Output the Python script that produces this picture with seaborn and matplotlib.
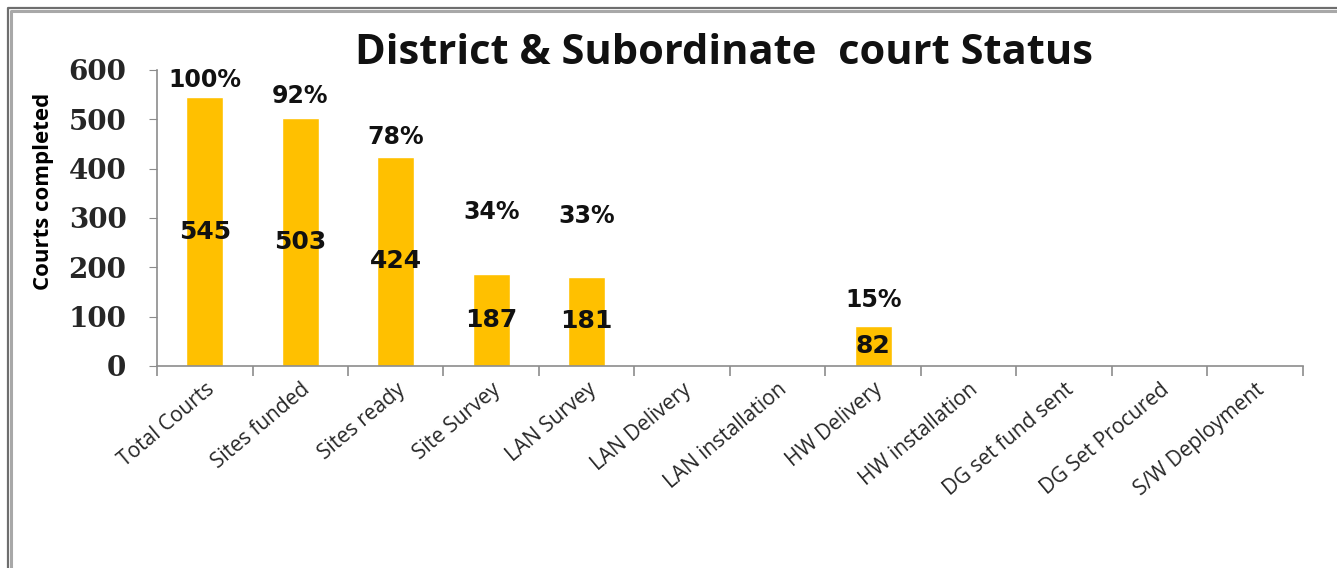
"""
District & Subordinate court status bar chart.
"""

import matplotlib.pyplot as plt
from matplotlib.lines import Line2D
from matplotlib.ticker import FixedLocator
import pandas as pd
import seaborn as sns

stages = ['Total Courts', 'Sites funded', 'Sites ready', 'Site Survey',
          'LAN Survey', 'LAN Delivery', 'LAN installation', 'HW Delivery',
          'HW installation', 'DG set fund sent', 'DG Set Procured',
          'S/W Deployment']
courts = [545, 503, 424, 187, 181, 0, 0, 82, 0, 0, 0, 0]
percents = ['100%', '92%', '78%', '34%', '33%', '', '', '15%', '', '', '', '']
# heights (in data units) where the percentage labels sit
percent_y = [580, 548, 465, 312, 304, 0, 0, 134, 0, 0, 0, 0]

W, H = 1337, 568
sns.set_style('white')
figure = plt.figure(figsize=(W / 100, H / 100), dpi=100)
axes = figure.add_axes([157 / W, 1 - 366 / H, 1146 / W, 296 / H])

frame = pd.DataFrame({'stage': stages, 'courts': courts})
sns.barplot(data=frame, x='stage', y='courts', color='#FFC000',
            saturation=1, width=0.39, ax=axes)

axes.set_ylim(0, 600)
axes.set_xlim(-0.5, len(stages) - 0.5)
axes.set_yticks(range(0, 601, 100))
axes.set_xlabel('')
axes.set_ylabel('Courts completed', fontsize=16, fontweight='bold',
                family='Open Sans', color='black')
axes.yaxis.set_label_coords(-0.09, 0.59)
axes.set_title('District & Subordinate  court Status', fontsize=30,
               fontweight='bold', family='Open Sans', pad=4, x=0.495,
               color='#111111')

for side in ['top', 'right']:
    axes.spines[side].set_visible(False)
for side in ['left', 'bottom']:
    axes.spines[side].set_color('#8c8c8c')
    axes.spines[side].set_linewidth(1.2)

# y ticks in a wide bold serif like the original
for label in axes.get_yticklabels():
    label.set_family('DejaVu Serif')
    label.set_fontweight('bold')
    label.set_fontsize(20)
axes.tick_params(axis='y', which='major', left=True, length=6,
                 color='#8c8c8c', pad=16)

# x labels on majors without tick marks, tick marks on category boundaries
axes.set_xticks(range(len(stages)))
axes.set_xticklabels(stages, rotation=40, ha='right',
                     rotation_mode='anchor', fontsize=15, family='Open Sans')
axes.tick_params(axis='x', which='major', bottom=False, pad=6)
axes.xaxis.set_minor_locator(FixedLocator(
    [i - 0.5 for i in range(len(stages) + 1)]))
axes.tick_params(axis='x', which='minor', bottom=True, length=7,
                 color='#8c8c8c', width=1.2)

# values centred in the bars, percentages above them
for bar, value, pct, py in zip(axes.patches, courts, percents, percent_y):
    if value == 0:
        continue
    x = bar.get_x() + bar.get_width() / 2
    axes.text(x, value / 2, f'{value}', ha='center', va='center',
              fontsize=18, fontweight='bold', family='DejaVu Sans',
              color='#111111')
    axes.text(x, py, pct, ha='center', va='center',
              fontsize=17, fontweight='bold', family='DejaVu Sans',
              color='#111111')

# grey double frame on the left and top edges
for offset, colour, lw in [(7.5, '#6e6e6e', 1.6), (11, '#a8a8a8', 2.2)]:
    figure.lines.append(Line2D([offset / W, offset / W, 1.0],
                               [0.0, 1 - offset / H, 1 - offset / H],
                               transform=figure.transFigure,
                               color=colour, linewidth=lw))

figure.savefig('out.png', dpi=100)
